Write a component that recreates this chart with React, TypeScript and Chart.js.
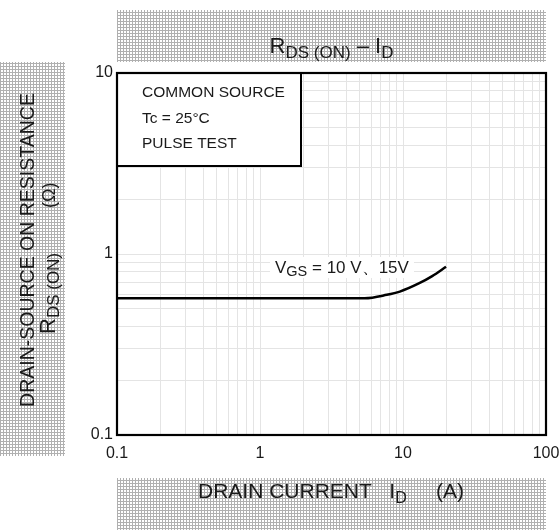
import React, { useEffect, useRef } from "react";
import { Chart, registerables } from "chart.js";

Chart.register(...registerables);

// ---- data ----
const currentA = [0.1, 5.4, 7.7, 9.5, 13, 16, 20];
const rdsOhm = [0.57, 0.57, 0.595, 0.62, 0.69, 0.755, 0.85];
const xTickLabels = [0.1, 1, 10, 100];
const yTickLabels = [0.1, 1, 10];
const significands = [1, 2, 3, 4, 5, 6, 7, 8, 9];
const legendLines = ["COMMON SOURCE", "Tc = 25°C", "PULSE TEST"];
const curveLabel = { main: "V", sub: "GS", rest: " = 10 V、15V" };

const FONT = "'Liberation Sans', Arial, Helvetica, sans-serif";

type Seg = { text: string; size: number; dy?: number };

function drawRich(ctx: CanvasRenderingContext2D, segs: Seg[], x: number, y: number, align: "left" | "center") {
  let total = 0;
  const widths = segs.map((s) => {
    ctx.font = `${s.size}px ${FONT}`;
    const w = ctx.measureText(s.text).width;
    total += w;
    return w;
  });
  let cx = align === "center" ? x - total / 2 : x;
  ctx.textAlign = "left";
  ctx.textBaseline = "alphabetic";
  segs.forEach((s, i) => {
    ctx.font = `${s.size}px ${FONT}`;
    ctx.fillText(s.text, cx, y + (s.dy || 0));
    cx += widths[i];
  });
}

let hatchCache: CanvasPattern | null = null;
function hatch(ctx: CanvasRenderingContext2D) {
  if (hatchCache) return hatchCache;
  const c = document.createElement("canvas");
  c.width = 3;
  c.height = 3;
  const g = c.getContext("2d")!;
  g.fillStyle = "#ffffff";
  g.fillRect(0, 0, 3, 3);
  g.fillStyle = "#b0b0b0";
  g.fillRect(0, 0, 1, 3);
  g.fillRect(0, 0, 3, 1);
  hatchCache = ctx.createPattern(c, "repeat");
  return hatchCache!;
}

function logTicks(min: number, max: number) {
  const out: { value: number }[] = [];
  for (let e = Math.round(Math.log10(min)); e <= Math.round(Math.log10(max)); e++) {
    for (const s of significands) {
      const v = Number((s * Math.pow(10, e)).toPrecision(6));
      if (v >= min * 0.9999 && v <= max * 1.0001) out.push({ value: v });
    }
  }
  return out;
}

const decorPlugin = {
  id: "decor",
  beforeDraw(chart: any) {
    const ctx: CanvasRenderingContext2D = chart.ctx;
    const ca = chart.chartArea;
    ctx.save();
    ctx.fillStyle = "#ffffff";
    ctx.fillRect(0, 0, chart.width, chart.height);
    const p = hatch(ctx);
    ctx.fillStyle = p;
    // title box
    ctx.fillRect(ca.left, 10, ca.right - ca.left, 52);
    // y label box
    ctx.fillRect(0, 62, 65, 394);
    // x label box
    ctx.fillRect(ca.left, 478, ca.right - ca.left, 52);

    ctx.fillStyle = "#1a1a1a";
    // title
    drawRich(
      ctx,
      [
        { text: "R", size: 22 },
        { text: "DS (ON)", size: 17, dy: 5 },
        { text: " – I", size: 22 },
        { text: "D", size: 17, dy: 5 },
      ],
      (ca.left + ca.right) / 2,
      53,
      "center"
    );
    // x label
    drawRich(
      ctx,
      [
        { text: "DRAIN CURRENT   I", size: 21 },
        { text: "D", size: 16, dy: 5 },
        { text: "     (A)", size: 21 },
      ],
      198,
      498,
      "left"
    );
    // y label (rotated)
    ctx.save();
    ctx.translate(34, 250);
    ctx.rotate(-Math.PI / 2);
    drawRich(ctx, [{ text: "DRAIN-SOURCE ON RESISTANCE", size: 19.5 }], 0, 0, "center");
    ctx.restore();
    ctx.save();
    ctx.translate(55, 334);
    ctx.rotate(-Math.PI / 2);
    drawRich(
      ctx,
      [
        { text: "R", size: 22 },
        { text: "DS (ON)", size: 17, dy: 4 },
      ],
      0,
      0,
      "left"
    );
    ctx.restore();
    ctx.save();
    ctx.translate(55, 208);
    ctx.rotate(-Math.PI / 2);
    drawRich(ctx, [{ text: "(Ω)", size: 18 }], 0, 0, "left");
    ctx.restore();
    ctx.restore();
  },
  afterDatasetsDraw(chart: any) {
    const ctx: CanvasRenderingContext2D = chart.ctx;
    const ca = chart.chartArea;
    ctx.save();
    // condition box
    ctx.fillStyle = "#ffffff";
    ctx.fillRect(ca.left, ca.top, 184, 93);
    ctx.strokeStyle = "#000";
    ctx.lineWidth = 2;
    ctx.strokeRect(ca.left, ca.top, 184, 93);
    ctx.fillStyle = "#1a1a1a";
    legendLines.forEach((t, i) => {
      drawRich(ctx, [{ text: t, size: 15.5 }], ca.left + 25, ca.top + 24 + i * 25.5, "left");
    });
    // curve label
    ctx.fillStyle = "#ffffff";
    ctx.fillRect(270, 257, 144, 21);
    ctx.fillStyle = "#1a1a1a";
    drawRich(
      ctx,
      [
        { text: curveLabel.main, size: 17 },
        { text: curveLabel.sub, size: 14.5, dy: 3 },
        { text: curveLabel.rest, size: 17 },
      ],
      275,
      273,
      "left"
    );
    // frame
    ctx.strokeStyle = "#000";
    ctx.lineWidth = 2.2;
    ctx.strokeRect(ca.left, ca.top, ca.right - ca.left, ca.bottom - ca.top);
    ctx.restore();
  },
};

function isLabel(v: number, list: number[]) {
  return list.some((t) => Math.abs(v - t) / t < 1e-6);
}

export default function App() {
  const ref = useRef<HTMLCanvasElement | null>(null);
  useEffect(() => {
    if (!ref.current) return;
    const chart = new Chart(ref.current, {
      type: "line",
      data: {
        datasets: [
          {
            data: currentA.map((x, i) => ({ x, y: rdsOhm[i] })),
            borderColor: "#000",
            borderWidth: 2.5,
            pointRadius: 0,
            cubicInterpolationMode: "monotone",
            fill: false,
          },
        ],
      },
      options: {
        animation: false,
        responsive: false,
        devicePixelRatio: 1,
        layout: { padding: { left: 60, top: 73, right: 14, bottom: 60 } },
        plugins: { legend: { display: false }, tooltip: { enabled: false }, title: { display: false } },
        scales: {
          x: {
            type: "logarithmic",
            min: 0.1,
            max: 100,
            border: { display: false },
            grid: { color: "#e4e4e4", lineWidth: 1, drawTicks: false },
            afterBuildTicks: (s: any) => {
              s.ticks = logTicks(0.1, 100);
            },
            ticks: {
              autoSkip: false,
              maxRotation: 0,
              minRotation: 0,
              padding: 9,
              color: "#1a1a1a",
              font: { family: FONT, size: 16 },
              callback: (v: any) => (isLabel(Number(v), xTickLabels) ? String(Number(v)) : ""),
            },
            afterFit: (s: any) => {
              s.height = 35;
              s.paddingLeft = 0;
              s.paddingRight = 0;
            },
          },
          y: {
            type: "logarithmic",
            min: 0.1,
            max: 10,
            border: { display: false },
            grid: { color: "#e4e4e4", lineWidth: 1, drawTicks: false },
            afterBuildTicks: (s: any) => {
              s.ticks = logTicks(0.1, 10);
            },
            ticks: {
              autoSkip: false,
              padding: 4,
              color: "#1a1a1a",
              font: { family: FONT, size: 16 },
              callback: (v: any) => (isLabel(Number(v), yTickLabels) ? String(Number(v)) : ""),
            },
            afterFit: (s: any) => {
              s.width = 57;
              s.paddingTop = 0;
              s.paddingBottom = 0;
            },
          },
        },
      },
      plugins: [decorPlugin],
    } as any);
    return () => chart.destroy();
  }, []);
  return (
    <div style={{ position: "absolute", left: 0, top: 0, width: 560, height: 530 }}>
      <canvas ref={ref} width={560} height={530} style={{ width: 560, height: 530, display: "block" }} />
    </div>
  );
}
